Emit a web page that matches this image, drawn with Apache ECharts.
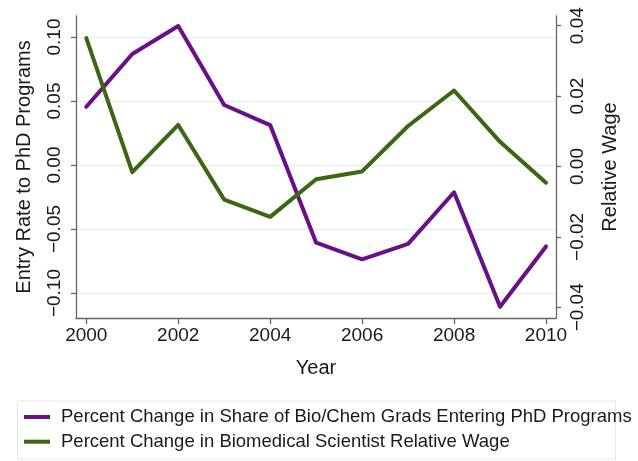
<!DOCTYPE html>
<html>
<head>
<meta charset="utf-8">
<script src="https://cdn.jsdelivr.net/npm/echarts@6/dist/echarts.min.js"></script>
<style>
html,body{margin:0;padding:0;background:#fff;}
#chart{width:638px;height:461px;}
</style>
</head>
<body>
<div id="chart"></div>
<script>
const years = [2000, 2001, 2002, 2003, 2004, 2005, 2006, 2007, 2008, 2009, 2010];
const entryRate = [0.0455, 0.0867, 0.1086, 0.0469, 0.0312, -0.0607, -0.0737, -0.0616, -0.0213, -0.1107, -0.0636];
const relWage = [0.0365, -0.0016, 0.0118, -0.0094, -0.0143, -0.0036, -0.0014, 0.0115, 0.0216, 0.0070, -0.0046];
const xTicks = [2000, 2002, 2004, 2006, 2008, 2010];
const leftTicks = [-0.10, -0.05, 0.00, 0.05, 0.10];
const rightTicks = [-0.04, -0.02, 0.00, 0.02, 0.04];
const seriesNames = ['Percent Change in Share of Bio/Chem Grads Entering PhD Programs', 'Percent Change in Biomedical Scientist Relative Wage'];

const FONT = 'Liberation Sans';
const TXT = '#1a1a1a';
const AX = '#666666';
const fmt = v => (v < 0 ? '\u2212' : '') + Math.abs(v).toFixed(2);

const chart = echarts.init(document.getElementById('chart'), null, {renderer: 'canvas'});
chart.setOption({
  animation: false,
  backgroundColor: '#ffffff',
  textStyle: {fontFamily: FONT},
  grid: {left: 76, right: 82, top: 16, bottom: 143, containLabel: false},
  xAxis: {
    type: 'value', min: 1999.776, max: 2010.2175,
    name: 'Year', nameLocation: 'middle', nameGap: 40,
    nameTextStyle: {fontFamily: FONT, fontSize: 20, color: TXT},
    axisLine: {show: true, onZero: false, lineStyle: {color: AX, width: 1.3}},
    axisTick: {show: true, length: 6, customValues: xTicks, lineStyle: {color: AX, width: 1.3}},
    axisLabel: {customValues: xTicks, fontFamily: FONT, fontSize: 19, color: TXT, margin: 8, formatter: v => String(v)},
    splitLine: {show: false}
  },
  yAxis: [
    {
      type: 'value', position: 'left', min: -0.1195, max: 0.1164,
      name: 'Entry Rate to PhD Programs', nameLocation: 'middle', nameGap: 42, nameRotate: 90,
      nameTextStyle: {fontFamily: FONT, fontSize: 20, color: TXT},
      axisLine: {show: true, onZero: false, lineStyle: {color: AX, width: 1.3}},
      axisTick: {show: true, length: 5, customValues: leftTicks, lineStyle: {color: AX, width: 1.3}},
      axisLabel: {customValues: leftTicks, rotate: 90, fontFamily: FONT, fontSize: 19, color: TXT, margin: 12, formatter: fmt},
      splitLine: {show: true, lineStyle: {color: '#e9edf0', width: 1.2}}
    },
    {
      type: 'value', position: 'right', min: -0.04304, max: 0.04276,
      name: 'Relative Wage', nameLocation: 'middle', nameGap: 44, nameRotate: 90,
      nameTextStyle: {fontFamily: FONT, fontSize: 20, color: TXT},
      axisLine: {show: true, onZero: false, lineStyle: {color: AX, width: 1.3}},
      axisTick: {show: true, length: 5, customValues: rightTicks, lineStyle: {color: AX, width: 1.3}},
      axisLabel: {customValues: rightTicks, rotate: 90, fontFamily: FONT, fontSize: 19, color: TXT, margin: 12, formatter: fmt},
      splitLine: {show: false}
    }
  ],
  legend: {
    orient: 'vertical', left: 24, top: 406, padding: 0, itemGap: 2.7,
    itemWidth: 26, itemHeight: 4, icon: 'rect',
    selectedMode: false,
    textStyle: {fontFamily: FONT, fontSize: 18.5, color: TXT, lineHeight: 22, padding: [0, 0, 0, 6]},
    data: seriesNames
  },
  graphic: [{
    type: 'rect', left: 17, top: 400.5, z: 0,
    shape: {width: 598, height: 58},
    style: {fill: '#ffffff', stroke: '#e6e6e6', lineWidth: 1}
  }],
  series: [
    {
      name: seriesNames[0], type: 'line', yAxisIndex: 0, symbol: 'none',
      data: years.map((y, i) => [y, entryRate[i]]),
      itemStyle: {color: '#6a0f86'},
      lineStyle: {color: '#6a0f86', width: 4, join: 'round', cap: 'round'}
    },
    {
      name: seriesNames[1], type: 'line', yAxisIndex: 1, symbol: 'none',
      data: years.map((y, i) => [y, relWage[i]]),
      itemStyle: {color: '#3b6612'},
      lineStyle: {color: '#3b6612', width: 4, join: 'round', cap: 'round'}
    }
  ]
});
</script>
</body>
</html>
